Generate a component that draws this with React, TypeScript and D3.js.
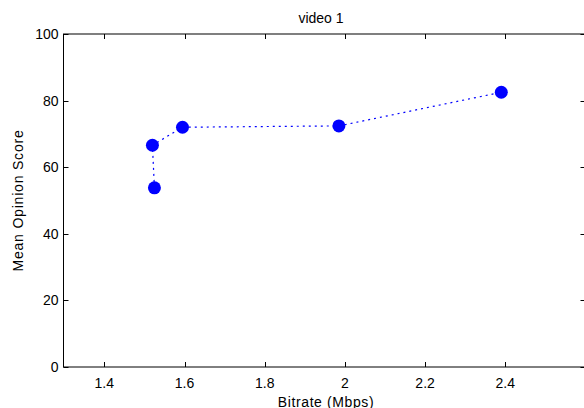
import React from "react";
import * as d3 from "d3";

const bitrate = [1.525, 1.52, 1.595, 1.985, 2.39];
const mos = [53.8, 66.6, 72.0, 72.4, 82.5];
const xTicks = [1.4, 1.6, 1.8, 2, 2.2, 2.4];
const yTicks = [0, 20, 40, 60, 80, 100];
const title = "video 1";
const xLabel = "Bitrate (Mbps)";
const yLabel = "Mean Opinion Score";

const W = 584, H = 408;
const L = 63.5, R = 585.5, T = 34, B = 367;

export default function App() {
  const x = d3.scaleLinear().domain([1.3, 2.6]).range([L + 0.7, R]);
  const y = d3.scaleLinear().domain([0, 100]).range([B, T]);
  const pts = bitrate.map((b, i) => [x(b), y(mos[i])] as [number, number]);
  const line = d3.line()(pts) || "";
  const font = "'Liberation Sans', Arial, sans-serif";
  const tl = 5;
  const fs = 14;
  return (
    <svg width={W} height={H} style={{ position: "absolute", left: 0, top: 0, background: "#fff" }} fontFamily={font}>
      <rect x={0} y={0} width={W} height={H} fill="#fff" />
      <rect x={L} y={T} width={R - L} height={B - T} fill="none" stroke="#000" strokeWidth={1} />
      {xTicks.map((t) => (
        <g key={"x" + t}>
          <line x1={Math.round(x(t)) + 0.5} x2={Math.round(x(t)) + 0.5} y1={B} y2={B - tl} stroke="#000" />
          <line x1={Math.round(x(t)) + 0.5} x2={Math.round(x(t)) + 0.5} y1={T} y2={T + tl} stroke="#000" />
          <text x={x(t)} y={388} fontSize={fs} textAnchor="middle" fill="#000">{String(t)}</text>
        </g>
      ))}
      {yTicks.map((t) => (
        <g key={"y" + t}>
          <line x1={L} x2={L + tl} y1={Math.round(y(t)) + 0.5} y2={Math.round(y(t)) + 0.5} stroke="#000" />
          <line x1={R} x2={R - tl} y1={Math.round(y(t)) + 0.5} y2={Math.round(y(t)) + 0.5} stroke="#000" />
          <text x={58.5} y={y(t) + 5} fontSize={fs} textAnchor="end" fill="#000">{String(t)}</text>
        </g>
      ))}
      <path d={line} fill="none" stroke="#0000ff" strokeWidth={1.2} strokeDasharray="2,4" />
      {pts.map((p, i) => (
        <circle key={i} cx={p[0]} cy={p[1]} r={6.5} fill="#0000ff" />
      ))}
      <text x={321} y={22.5} fontSize={fs} textAnchor="middle" fill="#000">{title}</text>
      <text x={326} y={406.5} fontSize={fs} textAnchor="middle" fill="#000" letterSpacing={0.6}>{xLabel}</text>
      <text transform={`translate(23,${(T + B) / 2}) rotate(-90)`} fontSize={fs} textAnchor="middle" fill="#000" letterSpacing={0.8}>{yLabel}</text>
    </svg>
  );
}
